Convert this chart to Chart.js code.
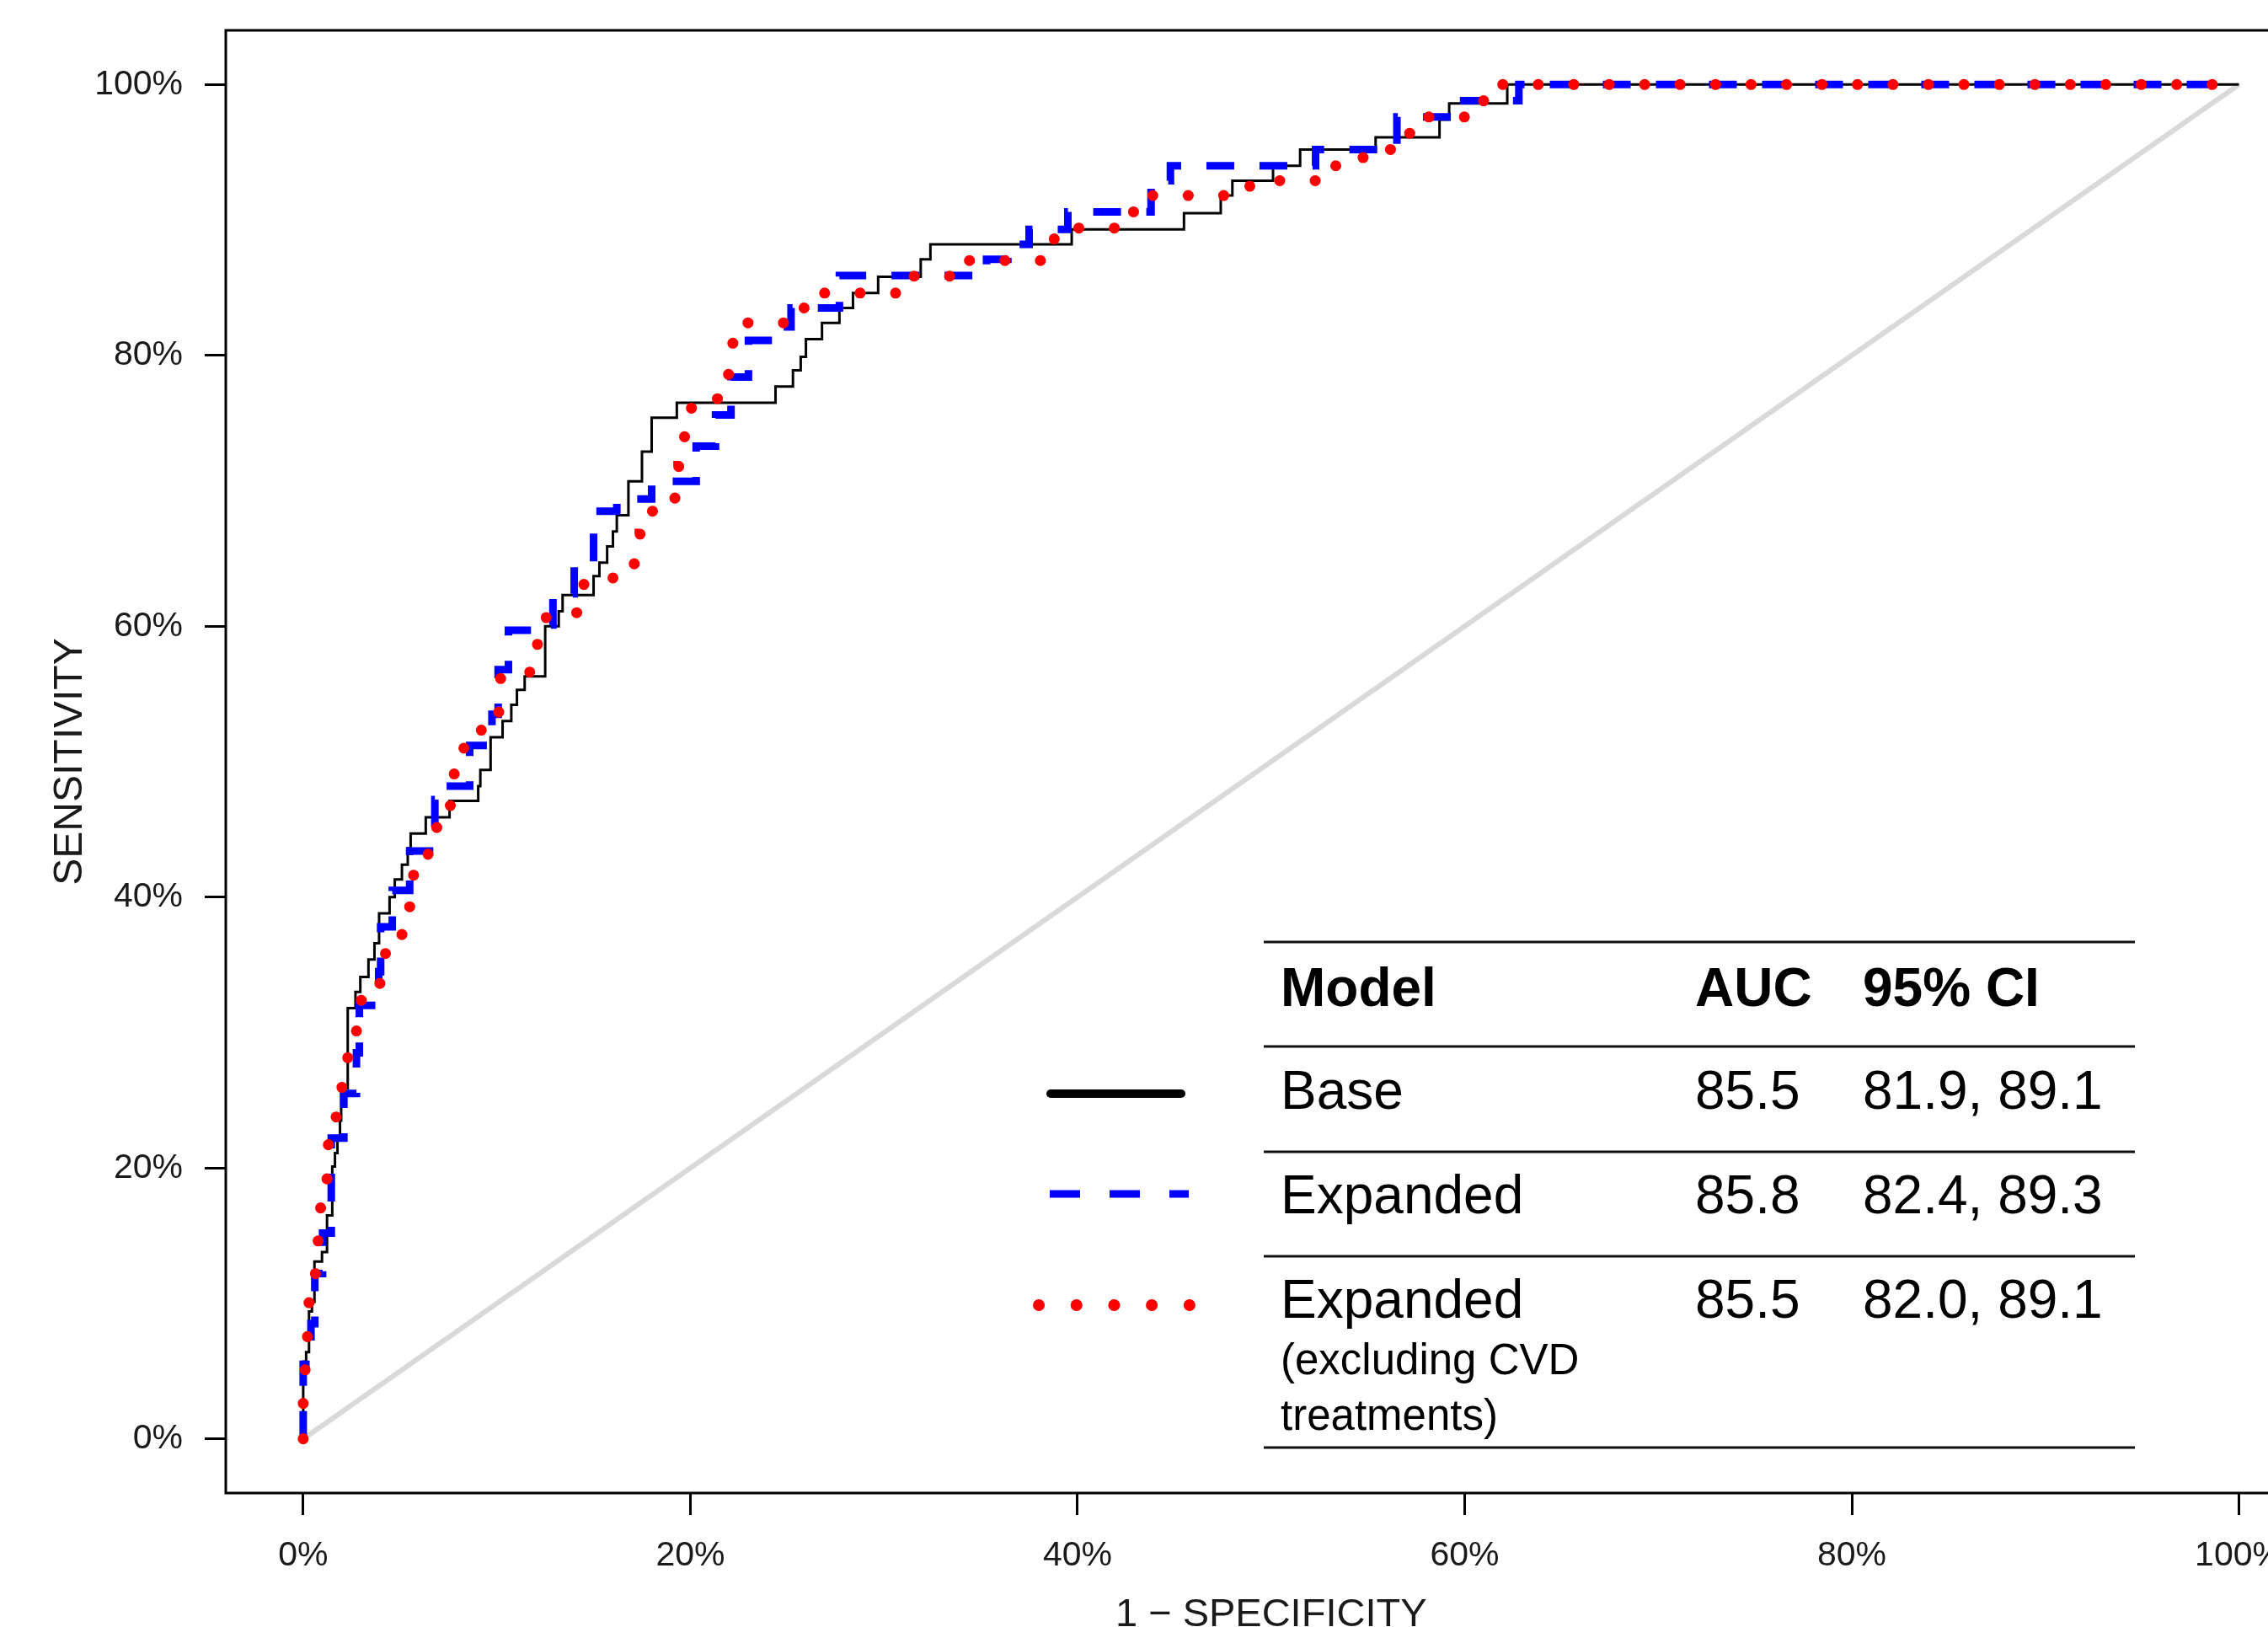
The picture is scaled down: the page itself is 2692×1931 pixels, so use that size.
<!DOCTYPE html>
<html>
<head>
<meta charset="utf-8">
<script src="https://cdn.jsdelivr.net/npm/chart.js@4.4.1/dist/chart.umd.min.js"></script>
<style>
html, body { margin: 0; padding: 0; background: #fff; overflow: hidden; }
canvas { display: block; }
</style>
</head>
<body>
<canvas id="roc" width="2692" height="1931"></canvas>
<script>
// ROC curves in percent: at each 1-specificity value the curve steps up to the sensitivity
const baseFpr  = [0, 0, 0.15, 0.3, 0.45, 0.58, 0.97, 1.23, 1.5, 1.64, 1.77, 1.9, 1.96, 2.3, 2.7, 2.95, 3.37, 3.68, 3.92, 4.46, 4.73, 5.1, 5.4, 5.55, 6.33, 7.56, 9.04, 9.15, 9.68, 10.3, 10.75, 11.04, 11.44, 12.5, 13.2, 13.4, 15.0, 15.3, 15.7, 16.0, 16.2, 16.8, 17.5, 18.0, 19.3, 24.4, 25.3, 25.7, 25.97, 26.8, 27.7, 28.4, 29.7, 31.9, 32.4, 39.7, 45.5, 47.4, 48.0, 50.1, 51.5, 55.4, 58.7, 59.2, 62.2, 100]
const baseSens = [0, 5.7, 6.4, 9.4, 10.1, 13.1, 13.8, 16.5, 20.1, 21.1, 22.3, 23.5, 25.9, 31.8, 33.0, 34.1, 35.4, 36.6, 38.8, 40.0, 41.3, 42.4, 43.6, 44.7, 45.9, 47.1, 48.2, 49.4, 51.8, 53.0, 54.2, 55.3, 56.3, 60.0, 61.1, 62.3, 63.7, 64.7, 65.9, 67.0, 68.2, 70.7, 72.9, 75.4, 76.5, 77.7, 78.9, 79.9, 81.2, 82.4, 83.5, 84.6, 85.8, 87.1, 88.2, 89.3, 90.5, 91.8, 92.9, 94.0, 95.2, 96.1, 97.4, 98.6, 100, 100]

const expFpr  = [0, 0, 0.4, 0.6, 1.0, 1.45, 2.1, 2.75, 2.9, 3.9, 4.0, 4.6, 5.5, 6.8, 7.0, 8.6, 9.75, 10.07, 10.6, 12.0, 12.9, 14.0, 15.0, 16.2, 18.0, 20.3, 21.3, 22.1, 23.0, 24.7, 25.2, 27.7, 35.3, 36.4, 37.5, 39.5, 43.8, 44.8, 52.3, 56.5, 59.4, 62.8, 100]
const expSens = [0, 5.5, 8.5, 12.2, 15.2, 22.2, 25.5, 28.5, 32.0, 34.5, 37.8, 40.5, 43.4, 47.2, 48.2, 51.2, 53.5, 56.8, 59.7, 60.1, 62.4, 64.7, 68.5, 69.4, 70.7, 73.3, 75.6, 78.4, 81.1, 82.1, 83.5, 85.9, 87.1, 88.2, 89.3, 90.6, 92.9, 94.0, 95.2, 97.6, 98.8, 100, 100]

const exclFpr  = [0, 0, 0.1, 0.22, 0.3, 0.63, 0.77, 0.9, 1.23, 1.3, 1.7, 2.0, 2.3, 2.75, 3.0, 3.96, 4.25, 5.1, 5.5, 5.7, 6.45, 6.9, 7.6, 7.8, 8.3, 9.2, 10.1, 10.2, 11.7, 12.1, 12.55, 14.5, 16.0, 17.1, 17.4, 18.0, 19.2, 19.4, 19.7, 20.0, 21.3, 21.9, 22.1, 22.9, 25.7, 26.9, 31.4, 34.3, 38.6, 39.8, 42.7, 43.7, 48.9, 53.1, 54.5, 55.9, 56.9, 57.9, 60.7, 61.7, 100]
const exclSens = [0, 3.4, 6.0, 8.5, 11.0, 13.1, 15.3, 17.7, 19.9, 22.4, 24.4, 26.6, 28.7, 30.6, 32.9, 34.2, 36.3, 37.7, 39.7, 42.0, 43.6, 45.5, 47.0, 49.4, 51.4, 52.7, 53.9, 56.4, 56.8, 58.8, 61.0, 63.1, 63.6, 64.7, 66.8, 68.5, 69.5, 71.8, 74.0, 76.1, 76.8, 78.6, 80.9, 82.4, 83.5, 84.6, 85.85, 87.0, 88.6, 89.4, 90.6, 91.8, 92.9, 94.0, 94.6, 95.2, 96.4, 97.6, 98.8, 100, 100]

const chanceX = [0, 100]
const chanceY = [0, 100]

const xTicks = [0, 20, 40, 60, 80, 100]
const yTicks = [0, 20, 40, 60, 80, 100]

const tableHead = ['Model', 'AUC', '95% CI']
const tableModel = ['Base', 'Expanded', 'Expanded']
const tableNote = [[], [], ['(excluding CVD', 'treatments)']]
const tableAuc = ['85.5', '85.8', '85.5']
const tableCi = ['81.9, 89.1', '82.4, 89.3', '82.0, 89.1']

const FONT = '"Liberation Sans", Arial, sans-serif'
const TXT = '#1a1a1a'

function toPts(xs, ys) {
    return xs.map((x, i) => ({x: x, y: ys[i]}))
}

// legend sample styles, same order as table rows
const samples = [
    {color: '#000000', width: 10, dash: [], cap: 'round', x0: 1247, x1: 1402},
    {color: '#0000ff', width: 9, dash: [36, 35], cap: 'butt', x0: 1246, x1: 1411},
    {color: '#ff0000', width: 14, dash: [0.1, 44.6], cap: 'round', x0: 1233, x1: 1412}
]

const decor = {
    id: 'decor',
    beforeDatasetsDraw(chart) {
        const ctx = chart.ctx
        const a = chart.chartArea
        ctx.save()
        ctx.strokeStyle = '#000'
        ctx.lineWidth = 3
        ctx.beginPath()
        ctx.moveTo(a.right + 5, a.top)
        ctx.lineTo(a.left, a.top)
        ctx.lineTo(a.left, a.bottom)
        ctx.lineTo(a.right + 5, a.bottom)
        ctx.stroke()
        ctx.restore()
    },
    afterDraw(chart) {
        const ctx = chart.ctx
        const xs = chart.scales.x
        const ys = chart.scales.y
        ctx.save()
        ctx.fillStyle = TXT

        // axis titles
        ctx.font = `47px ${FONT}`
        ctx.textAlign = 'center'
        ctx.textBaseline = 'alphabetic'
        ctx.fillText('1 \u2212 SPECIFICITY', xs.getPixelForValue(50), 1930)
        ctx.save()
        ctx.translate(97, ys.getPixelForValue(50))
        ctx.rotate(-Math.PI / 2)
        ctx.font = `48px ${FONT}`
        ctx.fillText('SENSITIVITY', 0, 0)
        ctx.restore()

        // table
        const left = 1500, right = 2534
        const rules = [1118, 1242, 1367, 1491, 1718]
        const colX = [1520, 2012, 2211]
        const rowY = [1316, 1440, 1564]
        const sampleY = [1298, 1417, 1549]

        ctx.strokeStyle = '#111'
        ctx.lineWidth = 3
        rules.forEach(function(y){
            ctx.beginPath()
            ctx.moveTo(left, y)
            ctx.lineTo(right, y)
            ctx.stroke()
        })

        ctx.textAlign = 'left'
        ctx.fillStyle = '#000'
        ctx.font = `bold 64px ${FONT}`
        tableHead.forEach(function(t, i){ ctx.fillText(t, colX[i], 1194) })

        ctx.font = `64px ${FONT}`
        for (let i = 0; i < tableModel.length; i++) {
            ctx.fillText(tableModel[i], colX[0], rowY[i])
            ctx.fillText(tableAuc[i], colX[1], rowY[i])
            ctx.fillText(tableCi[i], colX[2], rowY[i])
        }
        ctx.font = `51px ${FONT}`
        tableNote.forEach(function(lines, i){
            lines.forEach(function(l, j){ ctx.fillText(l, colX[0], rowY[i] + 67 + j * 66) })
        })

        samples.forEach(function(s, i){
            ctx.strokeStyle = s.color
            ctx.lineWidth = s.width
            ctx.lineCap = s.cap
            ctx.setLineDash(s.dash)
            ctx.beginPath()
            ctx.moveTo(s.x0, sampleY[i])
            ctx.lineTo(s.x1, sampleY[i])
            ctx.stroke()
        })
        ctx.restore()
    }
}

const axisCommon = {
    type: 'linear',
    border: {display: false},
    grid: {drawOnChartArea: false, drawTicks: true, tickWidth: 3, tickColor: '#000'},
    ticks: {
        font: {family: FONT, size: 41},
        color: TXT,
        callback: (v) => v + '%'
    }
}

new Chart(document.getElementById('roc'), {
    type: 'line',
    data: {
        datasets: [
            {label: 'Expanded (excluding CVD treatments)', data: toPts(exclFpr, exclSens), borderColor: '#ff0000',
             borderWidth: 13, borderDash: [0.1, 42], borderCapStyle: 'round', stepped: 'before', order: 0},
            {label: 'Expanded', data: toPts(expFpr, expSens), borderColor: '#0000ff',
             borderWidth: 9, borderDash: [33, 30], borderCapStyle: 'butt', stepped: 'before', order: 1},
            {label: 'Base', data: toPts(baseFpr, baseSens), borderColor: '#000000',
             borderWidth: 3, stepped: 'before', order: 2},
            {label: 'Chance', data: toPts(chanceX, chanceY), borderColor: '#d9d9d9',
             borderWidth: 6, order: 3}
        ]
    },
    options: {
        responsive: false,
        animation: false,
        devicePixelRatio: 1,
        layout: {padding: {top: 36, left: 0, right: 0, bottom: 0}},
        elements: {point: {radius: 0}, line: {tension: 0, fill: false}},
        plugins: {legend: {display: false}, tooltip: {enabled: false}},
        scales: {
            x: {
                ...axisCommon,
                min: -4, max: 101.5,
                grid: {...axisCommon.grid, tickLength: 26},
                ticks: {...axisCommon.ticks, padding: 24, maxRotation: 0, autoSkip: false},
                afterBuildTicks: (s) => { s.ticks = xTicks.map(v => ({value: v})) },
                afterFit: (s) => { s.height = 159; s.paddingLeft = 0; s.paddingRight = 0 }
            },
            y: {
                ...axisCommon,
                min: -4, max: 104,
                grid: {...axisCommon.grid, tickLength: 25},
                ticks: {...axisCommon.ticks, padding: 26},
                afterBuildTicks: (s) => { s.ticks = yTicks.map(v => ({value: v})) },
                afterFit: (s) => { s.width = 268; s.paddingTop = 0; s.paddingBottom = 0 }
            }
        }
    },
    plugins: [decor]
})
</script>
</body>
</html>
